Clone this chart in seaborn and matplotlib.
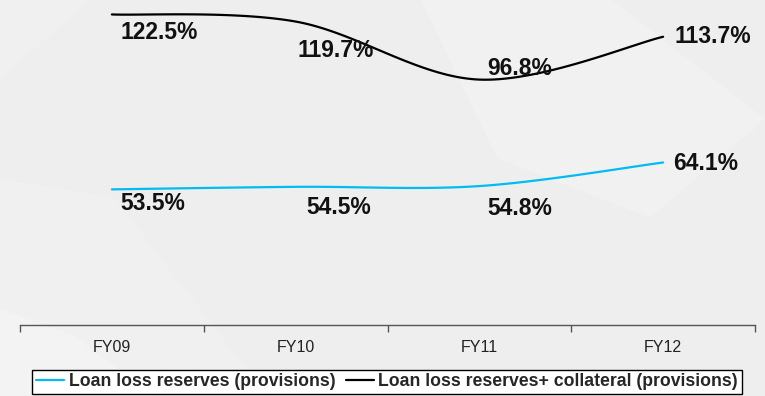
import numpy as np
import pandas as pd
import matplotlib
matplotlib.use("Agg")
import matplotlib.pyplot as plt
from matplotlib.lines import Line2D
from matplotlib.patches import Polygon
import seaborn as sns

categories = ["FY09", "FY10", "FY11", "FY12"]
reserves = [53.5, 54.5, 54.8, 64.1]
reserves_collateral = [122.5, 119.7, 96.8, 113.7]
series_names = ["Loan loss reserves (provisions)",
                "Loan loss reserves+ collateral (provisions)"]
colors = ["#00BCF2", "#000000"]

# label offsets in points (dx, dy) relative to each data point
offsets_reserves = [(6, -10), (8, -15), (6, -16), (7, -1)]
offsets_collateral = [(6, -13), (1, -21), (6, 8), (8, 0)]


def smooth(xs, ys, n=40):
    """Catmull-Rom curve through the points, like a spreadsheet 'smoothed line'."""
    xs = np.asarray(xs, float)
    ys = np.asarray(ys, float)
    px = np.concatenate([[xs[0]], xs, [xs[-1]]])
    py = np.concatenate([[ys[0]], ys, [ys[-1]]])
    outx, outy = [], []
    for i in range(1, len(px) - 2):
        t = np.linspace(0, 1, n, endpoint=(i == len(px) - 3))
        for arr, out in ((px, outx), (py, outy)):
            p0, p1, p2, p3 = arr[i - 1], arr[i], arr[i + 1], arr[i + 2]
            m1 = (p2 - p0) / 2
            m2 = (p3 - p1) / 2
            h00 = 2 * t**3 - 3 * t**2 + 1
            h10 = t**3 - 2 * t**2 + t
            h01 = -2 * t**3 + 3 * t**2
            h11 = t**3 - t**2
            out.extend(h00 * p1 + h10 * m1 + h01 * p2 + h11 * m2)
    return np.array(outx), np.array(outy)


sns.set_theme(style="white")
plt.rcParams["font.family"] = ["Liberation Sans", "DejaVu Sans"]

fig = plt.figure(figsize=(7.65, 3.96), dpi=100)
fig.patch.set_facecolor("#eeeeee")

# soft background shapes
bg = fig.add_axes([0, 0, 1, 1], zorder=-5)
bg.set_xlim(0, 1)
bg.set_ylim(0, 1)
bg.axis("off")
for pts, c in [
    ([(0.55, 1.0), (0.8, 1.0), (1.0, 0.7), (0.85, 0.45), (0.65, 0.6)], "#f1f1f1"),
    ([(0.0, 0.55), (0.15, 0.5), (0.35, 0.0), (0.0, 0.0)], "#f0f0f0"),
    ([(0.0, 0.22), (0.1, 0.15), (0.2, 0.0), (0.0, 0.0)], "#f3f3f3"),
    ([(0.0, 1.0), (0.12, 1.0), (0.0, 0.8)], "#f0f0f0"),
]:
    bg.add_patch(Polygon(pts, closed=True, facecolor=c, edgecolor="none"))

ax = fig.add_axes([20 / 765, 71 / 396, 735 / 765, 325 / 396])
ax.set_facecolor("none")

xpos = np.arange(len(categories))
frames = []
for name, vals in zip(series_names, [reserves, reserves_collateral]):
    sx, sy = smooth(xpos, vals)
    frames.append(pd.DataFrame({"x": sx, "y": sy, "series": name}))
df = pd.concat(frames, ignore_index=True)

sns.lineplot(data=df, x="x", y="y", hue="series", palette=colors, sort=False,
             estimator=None, linewidth=1.6, legend=False, ax=ax, clip_on=False)

for vals, offs in [(reserves, offsets_reserves), (reserves_collateral, offsets_collateral)]:
    for x, v, (dx, dy) in zip(xpos, vals, offs):
        ax.annotate(f"{v}%", (x, v), xytext=(dx, dy), textcoords="offset points",
                    ha="left", va="center", fontsize=16.5, fontweight="bold",
                    color="#111111")

ax.set_xlim(-0.5, len(categories) - 0.5)
ax.set_ylim(0, 128.2)
ax.set_yticks([])
ax.set_xticks(np.arange(-0.5, len(categories), 1.0))
ax.set_xticklabels([])
ax.set_xticks(xpos, minor=True)
ax.set_xticklabels(categories, minor=True)
ax.tick_params(axis="x", which="major", length=5, width=1, color="#555555", direction="out",
               bottom=True)
ax.tick_params(axis="x", which="minor", length=0, pad=11, labelsize=11.5, labelcolor="#222222")
ax.set_xlabel("")
ax.set_ylabel("")
for s in ["top", "right", "left"]:
    ax.spines[s].set_visible(False)
ax.spines["bottom"].set_color("#555555")
ax.spines["bottom"].set_linewidth(1)

handles = [Line2D([], [], color=c, linewidth=1.6) for c in colors]
leg = fig.legend(handles, series_names, loc="center", bbox_to_anchor=(387 / 765, 1 - 382 / 396),
                 ncol=2, frameon=True, fancybox=False, handlelength=1.6, handletextpad=0.25,
                 columnspacing=0.6, borderpad=0.2, prop={"weight": "bold", "size": 12.7})
leg.get_frame().set_edgecolor("#000000")
leg.get_frame().set_facecolor("#ffffff")
leg.get_frame().set_linewidth(1)
leg.get_frame().set_alpha(1)

fig.savefig("out.png", dpi=100, facecolor=fig.get_facecolor())
